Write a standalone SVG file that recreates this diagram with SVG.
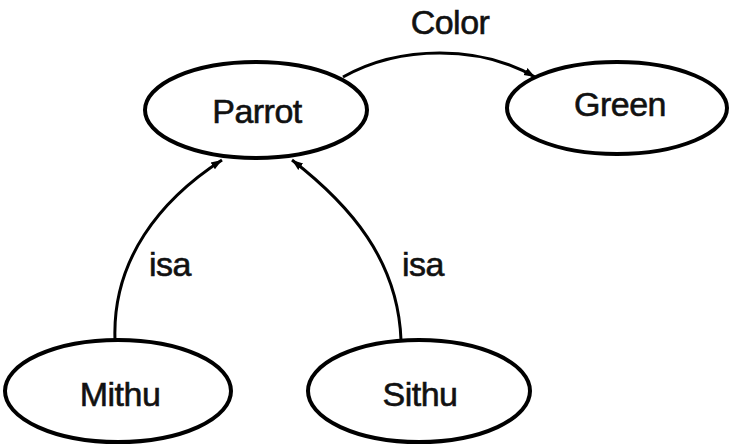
<svg xmlns="http://www.w3.org/2000/svg" width="730" height="448" viewBox="0 0 730 448">
<style>
.node ellipse{fill:#fff;stroke:#000;stroke-width:4}
text{font-family:"Liberation Sans",Arial,sans-serif;font-size:34px;fill:#111;stroke:#111;stroke-width:0.6;text-anchor:middle;letter-spacing:-0.5px}
.edge{fill:none;stroke:#000;stroke-width:3}
</style>
<defs>
<marker id="arr" markerUnits="userSpaceOnUse" markerWidth="14" markerHeight="12" refX="11" refY="5" orient="auto">
<path d="M0,1 L11,5 L0,9 Z" fill="#000"/>
</marker>
</defs>
<rect width="730" height="448" fill="#fff"/>
<g id="connectors">
<path class="edge" d="M343,77 C400,45 480,45 535,77" marker-end="url(#arr)"/>
<path class="edge" d="M115,340 C112,260 160,200 222,160" marker-end="url(#arr)"/>
<path class="edge" d="M401,340 C398,260 350,205 292,160" marker-end="url(#arr)"/>
<text x="450" y="34">Color</text>
<text x="170" y="276">isa</text>
<text x="423" y="276">isa</text>
</g>
<g id="parrot" class="node"><ellipse cx="256" cy="110" rx="111" ry="48"/><text x="257" y="123">Parrot</text></g>
<g id="green" class="node"><ellipse cx="617" cy="108" rx="110" ry="46"/><text x="620" y="116">Green</text></g>
<g id="mithu" class="node"><ellipse cx="118" cy="391" rx="113" ry="51"/><text x="120" y="406">Mithu</text></g>
<g id="sithu" class="node"><ellipse cx="419" cy="391" rx="111" ry="51"/><text x="420" y="406">Sithu</text></g>
</svg>
